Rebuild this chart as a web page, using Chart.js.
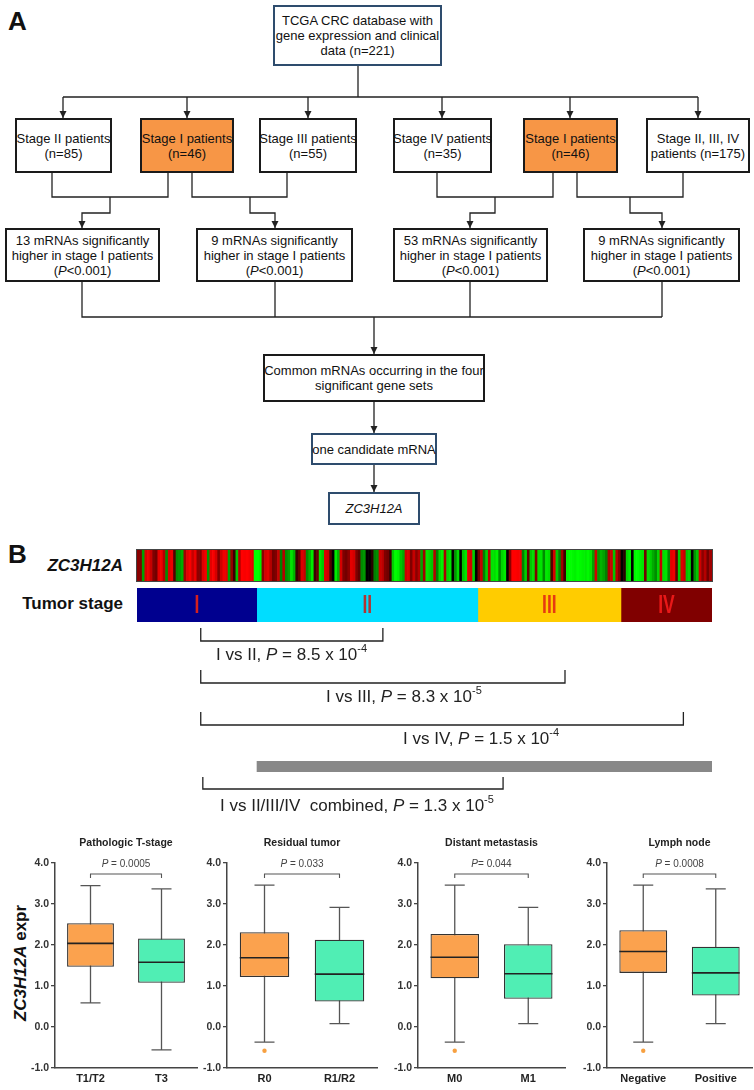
<!DOCTYPE html>
<html>
<head>
<meta charset="utf-8">
<script src="https://cdn.jsdelivr.net/npm/chart.js@4.4.0/dist/chart.umd.min.js"></script>
<style>
  body { margin: 0; background: #fff; width: 754px; height: 1090px; position: relative; overflow: hidden;
         font-family: "Liberation Sans", Arial, sans-serif; color: #111; }
  .abs { position: absolute; }
  .box { position: absolute; box-sizing: border-box; border: 2px solid #1a1a1a; background: #fff;
         display: flex; align-items: center; justify-content: center; text-align: center;
         font-size: 13px; line-height: 15px; white-space: nowrap; }
  .orange { background: #F79646; }
  .navy { border-color: #2E4C6D; }
  canvas { position: absolute; }
  .panel { font-weight: bold; font-size: 26px; }
</style>
</head>
<body>

<!-- A: flow chart -->
<div class="abs panel" style="left:8px;top:6px">A</div>

<svg class="abs" style="left:0;top:0" width="754" height="540">
  <g stroke="#222" stroke-width="1.3" fill="none">
    <path d="M358 66V97M63 97H698"/>
    <path d="M63 97V118M187 97V118M308 97V118M442 97V118M570 97V118M698 97V118"/>
    <path d="M52 173V197H168V173M110 197V213H82V228"/>
    <path d="M192 173V197H287V173M250 197V213H275V228"/>
    <path d="M437 173V197H553V173M495 197V213H470V228"/>
    <path d="M577 173V197H683V173M630 197V213H662V228"/>
    <path d="M82 282V317H662M275 282V317M470 282V317M662 282V317M374 317V354"/>
    <path d="M374 402V433M374 465V492"/>
  </g>
  <g fill="#222" id="heads"></g>
</svg>

<div class="box navy" style="left:273px;top:5px;width:169px;height:61px"><span>TCGA CRC database with<br>gene expression and clinical<br>data (n=221)</span></div>

<div class="box" style="left:15px;top:118px;width:97px;height:55px"><span>Stage II patients<br>(n=85)</span></div>
<div class="box orange" style="left:140px;top:118px;width:94px;height:55px"><span>Stage I patients<br>(n=46)</span></div>
<div class="box" style="left:259px;top:118px;width:98px;height:55px"><span>Stage III patients<br>(n=55)</span></div>
<div class="box" style="left:393px;top:118px;width:99px;height:55px"><span>Stage IV patients<br>(n=35)</span></div>
<div class="box orange" style="left:523px;top:118px;width:95px;height:55px"><span>Stage I patients<br>(n=46)</span></div>
<div class="box" style="left:646px;top:118px;width:104px;height:55px"><span>Stage II, III, IV<br>patients (n=175)</span></div>

<div class="box" style="left:5px;top:228px;width:155px;height:54px"><span>13 mRNAs significantly<br>higher in stage I patients<br>(<i>P</i>&lt;0.001)</span></div>
<div class="box" style="left:196px;top:228px;width:157px;height:54px"><span>9 mRNAs significantly<br>higher in stage I patients<br>(<i>P</i>&lt;0.001)</span></div>
<div class="box" style="left:393px;top:228px;width:155px;height:54px"><span>53 mRNAs significantly<br>higher in stage I patients<br>(<i>P</i>&lt;0.001)</span></div>
<div class="box" style="left:583px;top:228px;width:157px;height:54px"><span>9 mRNAs significantly<br>higher in stage I patients<br>(<i>P</i>&lt;0.001)</span></div>

<div class="box" style="left:263px;top:354px;width:222px;height:48px"><span>Common mRNAs occurring in the four<br>significant gene sets</span></div>
<div class="box navy" style="left:311px;top:433px;width:126px;height:32px"><span>one candidate mRNA</span></div>
<div class="box navy" style="left:328px;top:492px;width:92px;height:33px"><span><i>ZC3H12A</i></span></div>

<!-- B: heatmap strip, stages, box plots -->
<div class="abs panel" style="left:8px;top:539px">B</div>
<div class="abs" style="right:631px;top:556px;font-weight:bold;font-style:italic;font-size:17px">ZC3H12A</div>
<div class="abs" style="right:631px;top:594px;font-weight:bold;font-size:17px">Tumor stage</div>
<div class="abs" style="left:136px;top:549px;width:575px;height:31px;border:1px solid #444"></div>
<canvas id="heat" width="575" height="31" style="left:137px;top:550px"></canvas>
<canvas id="stage" width="590" height="230" style="left:130px;top:585px"></canvas>

<div class="abs" style="left:21px;top:963px;transform:translate(-50%,-50%) rotate(-90deg);font-weight:bold;font-size:17px;white-space:nowrap"><i>ZC3H12A</i> expr</div>

<canvas id="bp0"></canvas>
<canvas id="bp1"></canvas>
<canvas id="bp2"></canvas>
<canvas id="bp3"></canvas>

<script>
// ZC3H12A expression per patient (red = high, green = low), ordered by stage
const exprValues = [
  0.6, 0.5, -0.8, 1.5, 1.8, 1.2, 0.5, 0.4, 1.6, 1.8,
  1.0, -0.6, 1.5, 1.7, 0.2, -0.6, -0.7, -0.9, 0.8, 1.6,
  1.9, 1.2, 1.7, 0.6, 0.5, 1.5, 1.8, -0.7, 1.6, 1.9,
  1.4, 0.5, 1.3, 1.8, 1.6, -0.8, 0.7, 0.1, -1.2, 1.0,
  2.0, 1.9, 2.0, 1.8, 1.6, -2.0,
  -2.0, -1.8, 0.6, 1.4, 1.6, 1.0, 0.4, 0.5, 1.2, -0.5,
  1.0, -0.6, -0.8, -1.6, -1.0, 0.1, 0.3, 1.5, 1.2, -0.6,
  -1.0, -1.7, 0.1, 0.3, -1.6, -1.2, 1.5, 1.3, 0.2, 0.0,
  -1.7, -1.0, 1.4, 0.5, 0.4, 0.6, 1.6, 1.4, 0.5, 0.3,
  -0.6, -0.7, 0.0, 0.0, 0.05, -0.5, -0.6, 1.3, 1.1, 0.5,
  0.4, 0.1, -1.3, -2.0, -1.8, -1.2, -0.9, 1.3, 1.5, 0.5,
  1.2, 0.6, 1.0, -0.8, 0.8, -1.6, -1.4, -1.2, 1.0, -0.5,
  -1.5, -1.8, 0.9, -1.4, -1.6, 0.0, -0.7, -1.5, 0.0, -1.2,
  -1.6, 1.6, 1.4, -1.3, 0.0,
  0.4, 1.2, -0.5, -1.3, 1.0, -1.6, -1.5, -1.8, -0.6, -1.4,
  -1.7, 0.0, 0.6, 2.0, 2.0, 1.9, 1.8, -0.5, -1.3, 0.3,
  -1.2, -1.5, 0.5, -1.5, -1.6, -0.6, -1.7, -1.5, 0.2, 1.4,
  -1.2, -0.5, 0.8, 0.1, -1.8, -2.0, -1.9, -1.8, -2.0, -1.9,
  -1.8, -1.7, -1.9, -1.6, -0.8, 1.3, -0.7, -1.0, -0.8, -0.5,
  0.9, 1.3, -1.2, 1.0, 0.5,
  0.0, 0.05, -1.4, -1.7, 0.0, -1.9, -2.0, -1.8, -1.6, 0.4,
  -1.5, -1.3, -0.9, -0.6, -1.4, 1.2, -1.5, -1.6, -0.6, 1.6,
  1.8, 0.3, -1.3, 1.5, 1.2, -1.2, -1.4, 0.0, -0.7, -1.2,
  1.3, 0.6, 1.0, 0.4, 0.8
];

const stageNames = ['I', 'II', 'III', 'IV'];
const stageCounts = [46, 85, 55, 35];
const stageColors = ['#00008F', '#00DDFF', '#FFCC00', '#800000'];
const numeralColors = ['#D42020', '#B03434', '#E63A10', '#E81818'];

// stage comparisons (bracket ends in patient positions)
const compLabels = ['I vs II', 'I vs III', 'I vs IV', 'I vs II/III/IV  combined'];
const compP = ['8.5', '8.3', '1.5', '1.3'];
const compExp = ['-4', '-5', '-4', '-5'];
const compFrom = [24.5, 24.5, 24.5, 25.3];
const compTo = [94.5, 164.5, 210, 140.7];
const combinedSpan = [46, 221];

// box plots
const panelTitles = ['Pathologic T-stage', 'Residual tumor', 'Distant metastasis', 'Lymph node'];
const groupLabels = [['T1/T2', 'T3'], ['R0', 'R1/R2'], ['M0', 'M1'], ['Negative', 'Positive']];
const q1 = [[1.47, 1.08], [1.22, 0.62], [1.19, 0.69], [1.32, 0.77]];
const medians = [[2.04, 1.58], [1.69, 1.29], [1.70, 1.30], [1.84, 1.32]];
const q3 = [[2.53, 2.16], [2.31, 2.13], [2.27, 2.02], [2.36, 1.96]];
const whiskerLow = [[0.59, -0.56], [-0.37, 0.08], [-0.37, 0.08], [-0.37, 0.08]];
const whiskerHigh = [[3.45, 3.37], [3.46, 2.92], [3.46, 2.92], [3.46, 3.37]];
const outliers = [[[], []], [[-0.58], []], [[-0.58], []], [[-0.58], []]];
const pSep = [' = ', ' = ', '= ', ' = '];
const pValues = ['0.0005', '0.033', '0.044', '0.0008'];

const FONT = '"Liberation Sans", Arial, sans-serif';
Chart.defaults.font.family = FONT;
Chart.defaults.animation = false;
Chart.defaults.plugins.legend.display = false;
Chart.defaults.plugins.tooltip.enabled = false;

// arrow heads for the flow chart
const tips = [[63,118],[187,118],[308,118],[442,118],[570,118],[698,118],
              [82,228],[275,228],[470,228],[662,228],[374,354],[374,433],[374,492]];
document.getElementById('heads').innerHTML = tips.map(t =>
  `<polygon points="${t[0]-3.5},${t[1]-7} ${t[0]+3.5},${t[1]-7} ${t[0]},${t[1]}"/>`).join('');

function heatColor(v) {
  const c = Math.round(255 * Math.sqrt(Math.min(1, Math.abs(v) / 2)));
  return v >= 0 ? `rgb(${c},0,0)` : `rgb(0,${c},0)`;
}

new Chart(document.getElementById('heat'), {
  type: 'bar',
  data: {
    labels: exprValues.map((v, i) => i + 1),
    datasets: [{
      data: exprValues.map(() => 1),
      backgroundColor: exprValues.map(heatColor),
      barPercentage: 1, categoryPercentage: 1, borderWidth: 0
    }]
  },
  options: {
    responsive: false, events: [],
    layout: { padding: 0 },
    scales: { x: { display: false }, y: { display: false, min: 0, max: 1 } }
  }
});

function drawRich(ctx, parts, x, y) {
  let cx = x;
  parts.forEach(p => {
    ctx.font = p.font;
    ctx.fillText(p.t, cx, y + (p.dy || 0));
    cx += ctx.measureText(p.t).width;
  });
}

// rows of the comparison brackets, pixels from the top of the stage canvas
const brTop = [43, 85, 127, 192];
const brLine = [56, 98, 140, 204];
const brText = [70, 112, 154, 221];
const brTextX = [216, 326, 403, 220];

const stagePlugin = {
  id: 'stageMarks',
  afterDraw(chart) {
    const ctx = chart.ctx, x = chart.scales.x, a = chart.chartArea;
    ctx.save();
    // roman numerals
    let cum = 0;
    stageCounts.forEach((n, i) => {
      const cx = x.getPixelForValue(cum + n / 2);
      cum += n;
      ctx.save();
      ctx.translate(cx, (a.top + a.bottom) / 2 + 1);
      ctx.scale(0.7, 1);
      ctx.font = 'bold 25px ' + FONT;
      ctx.fillStyle = numeralColors[i];
      ctx.textAlign = 'center';
      ctx.textBaseline = 'middle';
      ctx.fillText(stageNames[i], 0, 0);
      ctx.restore();
    });
    // brackets
    ctx.strokeStyle = '#222';
    ctx.lineWidth = 1.3;
    ctx.fillStyle = '#222';
    ctx.textBaseline = 'middle';
    compLabels.forEach((lab, i) => {
      const x1 = x.getPixelForValue(compFrom[i]), x2 = x.getPixelForValue(compTo[i]);
      ctx.beginPath();
      ctx.moveTo(x1, brTop[i]);
      ctx.lineTo(x1, brLine[i]);
      ctx.lineTo(x2, brLine[i]);
      ctx.lineTo(x2, brTop[i]);
      ctx.stroke();
      const tx = brTextX[i] - 130;
      drawRich(ctx, [
        { t: lab + ', ', font: '17px ' + FONT },
        { t: 'P', font: 'italic 17px ' + FONT },
        { t: ' = ' + compP[i] + ' x 10', font: '17px ' + FONT },
        { t: compExp[i], font: '11px ' + FONT, dy: -6 }
      ], tx, brText[i]);
    });
    // grey bar marking stages II-IV combined
    const g1 = x.getPixelForValue(combinedSpan[0]), g2 = x.getPixelForValue(combinedSpan[1]);
    ctx.fillStyle = '#888888';
    ctx.fillRect(g1, 176, g2 - g1, 11);
    ctx.restore();
  }
};

new Chart(document.getElementById('stage'), {
  type: 'bar',
  data: {
    labels: ['Tumor stage'],
    datasets: stageNames.map((s, i) => ({
      label: s, data: [stageCounts[i]], backgroundColor: stageColors[i],
      barPercentage: 1, categoryPercentage: 1, borderWidth: 0
    }))
  },
  options: {
    indexAxis: 'y', responsive: false, events: [],
    layout: { padding: { left: 7, right: 8, top: 3, bottom: 193 } },
    scales: {
      x: { display: false, stacked: true, min: 0, max: stageCounts.reduce((s, v) => s + v, 0) },
      y: { display: false, stacked: true }
    }
  },
  plugins: [stagePlugin]
});

// box plot panels
const axisX = [55, 227, 418, 607];
const plotW = [142, 150, 147, 145];
const boxColors = ['#FBA24E', '#50EEB4'];

const boxPlugin = {
  id: 'boxParts',
  beforeDatasetsDraw(chart) {
    const k = chart.options.panelIndex, ctx = chart.ctx, y = chart.scales.y;
    const meta = chart.getDatasetMeta(0);
    ctx.save();
    ctx.strokeStyle = '#555';
    ctx.lineWidth = 1.3;
    meta.data.forEach((bar, i) => {
      const yl = y.getPixelForValue(whiskerLow[k][i]), yh = y.getPixelForValue(whiskerHigh[k][i]);
      ctx.beginPath();
      ctx.moveTo(bar.x, yh); ctx.lineTo(bar.x, yl);
      ctx.moveTo(bar.x - 10, yh); ctx.lineTo(bar.x + 10, yh);
      ctx.moveTo(bar.x - 10, yl); ctx.lineTo(bar.x + 10, yl);
      ctx.stroke();
    });
    ctx.restore();
  },
  afterDatasetsDraw(chart) {
    const k = chart.options.panelIndex, ctx = chart.ctx, y = chart.scales.y, a = chart.chartArea;
    const meta = chart.getDatasetMeta(0);
    ctx.save();
    meta.data.forEach((bar, i) => {
      const ym = y.getPixelForValue(medians[k][i]);
      ctx.strokeStyle = '#222';
      ctx.lineWidth = 1.6;
      ctx.beginPath();
      ctx.moveTo(bar.x - bar.width / 2, ym); ctx.lineTo(bar.x + bar.width / 2, ym);
      ctx.stroke();
      outliers[k][i].forEach(v => {
        ctx.fillStyle = '#F7A040';
        ctx.beginPath();
        ctx.arc(bar.x, y.getPixelForValue(v), 2.2, 0, Math.PI * 2);
        ctx.fill();
      });
    });
    // significance bracket
    const xa = meta.data[0].x, xb = meta.data[1].x, yb = a.top + 11;
    ctx.strokeStyle = '#555';
    ctx.lineWidth = 1.1;
    ctx.beginPath();
    ctx.moveTo(xa, yb + 4); ctx.lineTo(xa, yb); ctx.lineTo(xb, yb); ctx.lineTo(xb, yb + 4);
    ctx.stroke();
    ctx.fillStyle = '#444';
    ctx.textBaseline = 'middle';
    ctx.font = 'italic 10px ' + FONT;
    const w1 = ctx.measureText('P').width;
    ctx.font = '10px ' + FONT;
    const rest = pSep[k] + pValues[k];
    const w2 = ctx.measureText(rest).width;
    const sx = (xa + xb) / 2 - (w1 + w2) / 2;
    drawRich(ctx, [
      { t: 'P', font: 'italic 10px ' + FONT },
      { t: rest, font: '10px ' + FONT }
    ], sx, a.top + 1);
    // title
    ctx.fillStyle = '#222';
    ctx.font = 'bold 10.5px ' + FONT;
    ctx.textAlign = 'center';
    ctx.fillText(panelTitles[k], (a.left + a.right) / 2, a.top - 20);
    ctx.restore();
  }
};

panelTitles.forEach((title, k) => {
  const cv = document.getElementById('bp' + k);
  cv.width = 50 + plotW[k] + 4;
  cv.height = 262;
  cv.style.left = (axisX[k] - 50) + 'px';
  cv.style.top = '828px';
  new Chart(cv, {
    type: 'bar',
    data: {
      labels: groupLabels[k],
      datasets: [{
        data: q1[k].map((v, i) => [v, q3[k][i]]),
        backgroundColor: boxColors,
        borderColor: '#333',
        borderWidth: 1.3,
        borderSkipped: false,
        barPercentage: 0.66,
        categoryPercentage: 1
      }]
    },
    options: {
      panelIndex: k,
      responsive: false, events: [],
      layout: { padding: { top: 35, right: 4, bottom: 2, left: 0 } },
      scales: {
        y: {
          min: -1, max: 4,
          ticks: { stepSize: 1, callback: v => v.toFixed(1), color: '#333',
                   font: { weight: 'bold', size: 10.5 }, padding: 2 },
          grid: { drawOnChartArea: false, drawTicks: true, tickLength: 4, color: '#444', lineWidth: 1.3 },
          border: { color: '#444', width: 1.5 },
          afterFit: s => { s.width = 50; }
        },
        x: {
          ticks: { color: '#222', font: { weight: 'bold', size: 11 }, padding: 4 },
          grid: { drawOnChartArea: false, drawTicks: false },
          border: { color: '#444', width: 1.5 },
          afterFit: s => { s.width = s.width; s.height = 20; }
        }
      }
    },
    plugins: [boxPlugin]
  });
});
</script>
</body>
</html>
